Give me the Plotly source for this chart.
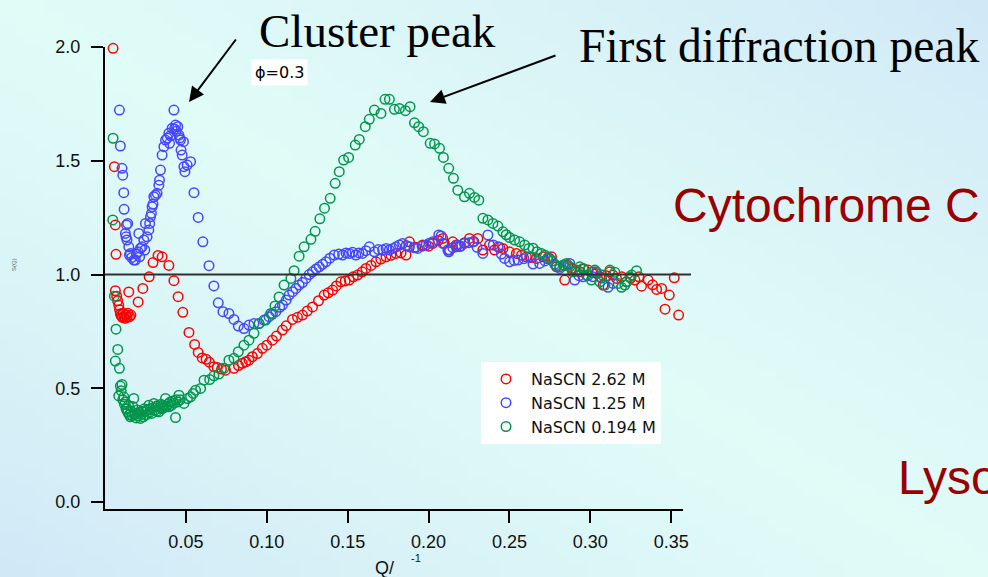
import base64
import struct
import zlib
import plotly.graph_objects as go

# ---------------- data ----------------
red_label = "NaSCN 2.62 M"
red_q = [0.0050, 0.0058, 0.0064, 0.0068, 0.0064, 0.0072, 0.0078, 0.0085, 0.0090, 0.0095,
         0.0100, 0.0106, 0.0112, 0.0118, 0.0124, 0.0130, 0.0136, 0.0142, 0.0147, 0.0152,
         0.0160, 0.0205, 0.0234, 0.0273, 0.0297, 0.0328, 0.0353, 0.0395, 0.0426, 0.0452,
         0.0481, 0.0519, 0.0554, 0.0576, 0.0601, 0.0625, 0.0645, 0.0673, 0.0694, 0.0720,
         0.0745, 0.0797, 0.0825, 0.0849, 0.0870, 0.0890, 0.0911, 0.0942, 0.0973, 0.1000,
         0.1035, 0.1060, 0.1097, 0.1120, 0.1159, 0.1190, 0.1221, 0.1250, 0.1283, 0.1320,
         0.1355, 0.1380, 0.1407, 0.1430, 0.1458, 0.1485, 0.1510, 0.1535, 0.1561, 0.1590,
         0.1613, 0.1645, 0.1675, 0.1705, 0.1737, 0.1768, 0.1799, 0.1830, 0.1861, 0.1882,
         0.1920, 0.1964, 0.2000, 0.2026, 0.2060, 0.2088, 0.2098, 0.2130, 0.2150, 0.2171,
         0.2191, 0.2222, 0.2253, 0.2280, 0.2305, 0.2336, 0.2377, 0.2408, 0.2440, 0.2460,
         0.2500, 0.2543, 0.2575, 0.2605, 0.2635, 0.2667, 0.2708, 0.2735, 0.2760, 0.2791,
         0.2842, 0.2860, 0.2884, 0.2910, 0.2935, 0.2960, 0.2986, 0.3010, 0.3038, 0.3060,
         0.3079, 0.3100, 0.3121, 0.3140, 0.3162, 0.3195, 0.3224, 0.3250, 0.3276, 0.3300,
         0.3317, 0.3358, 0.3385, 0.3410, 0.3441, 0.3462, 0.3488, 0.3519, 0.3546, 0.3575]
red_s = [1.994, 1.474, 1.218, 1.089, 0.929, 0.905, 0.885, 0.865, 0.845, 0.828,
         0.820, 0.812, 0.830, 0.815, 0.808, 0.822, 0.812, 0.830, 0.924, 0.815,
         0.822, 0.880, 0.939, 0.990, 1.053, 1.084, 1.078, 1.040, 0.973, 0.903,
         0.834, 0.746, 0.693, 0.658, 0.634, 0.628, 0.615, 0.595, 0.592, 0.585,
         0.580, 0.588, 0.600, 0.610, 0.617, 0.624, 0.639, 0.653, 0.676, 0.690,
         0.712, 0.730, 0.756, 0.775, 0.803, 0.812, 0.822, 0.840, 0.858, 0.885,
         0.910, 0.920, 0.932, 0.950, 0.968, 0.972, 0.976, 0.990, 0.998, 1.012,
         1.027, 1.040, 1.056, 1.068, 1.078, 1.085, 1.093, 1.095, 1.086, 1.144,
         1.120, 1.130, 1.125, 1.137, 1.150, 1.159, 1.137, 1.108, 1.144, 1.130,
         1.123, 1.140, 1.159, 1.145, 1.159, 1.108, 1.130, 1.108, 1.120, 1.115,
         1.100, 1.093, 1.085, 1.078, 1.075, 1.071, 1.078, 1.070, 1.078, 1.034,
         0.976, 1.040, 1.027, 1.015, 1.012, 1.025, 1.020, 1.010, 1.005, 0.990,
         0.954, 0.995, 1.012, 0.998, 0.983, 0.990, 0.968, 0.985, 0.976, 0.990,
         0.949, 0.976, 0.955, 0.935, 0.939, 0.848, 0.910, 0.986, 0.822, 0.939]

blue_label = "NaSCN 1.25 M"
blue_q = [0.0089, 0.0095, 0.0105, 0.0110, 0.0116, 0.0118, 0.0126, 0.0130, 0.0133, 0.0136,
          0.0140, 0.0147, 0.0151, 0.0157, 0.0165, 0.0178, 0.0188, 0.0195, 0.0205, 0.0209,
          0.0214, 0.0219, 0.0229, 0.0240, 0.0246, 0.0250, 0.0260, 0.0271, 0.0276, 0.0281,
          0.0287, 0.0291, 0.0297, 0.0302, 0.0312, 0.0322, 0.0333, 0.0337, 0.0343, 0.0353,
          0.0364, 0.0374, 0.0385, 0.0395, 0.0399, 0.0405, 0.0415, 0.0426, 0.0430, 0.0436,
          0.0440, 0.0450, 0.0457, 0.0462, 0.0467, 0.0470, 0.0477, 0.0485, 0.0488, 0.0494,
          0.0508, 0.0529, 0.0550, 0.0576, 0.0605, 0.0643, 0.0673, 0.0700, 0.0729, 0.0766,
          0.0797, 0.0824, 0.0859, 0.0890, 0.0921, 0.0952, 0.0983, 0.1014, 0.1035, 0.1056,
          0.1080, 0.1097, 0.1120, 0.1138, 0.1160, 0.1180, 0.1200, 0.1221, 0.1242, 0.1262,
          0.1283, 0.1305, 0.1324, 0.1345, 0.1366, 0.1390, 0.1417, 0.1445, 0.1469, 0.1490,
          0.1510, 0.1530, 0.1551, 0.1570, 0.1592, 0.1613, 0.1634, 0.1665, 0.1690, 0.1716,
          0.1738, 0.1758, 0.1780, 0.1799, 0.1820, 0.1840, 0.1862, 0.1882, 0.1910, 0.1933,
          0.1960, 0.1985, 0.2005, 0.2026, 0.2063, 0.2078, 0.2088, 0.2119, 0.2125, 0.2150,
          0.2171, 0.2181, 0.2200, 0.2222, 0.2250, 0.2274, 0.2300, 0.2336, 0.2367, 0.2400,
          0.2429, 0.2450, 0.2470, 0.2501, 0.2530, 0.2553, 0.2590, 0.2625, 0.2646, 0.2687,
          0.2720, 0.2749, 0.2780, 0.2811, 0.2840, 0.2873, 0.2904, 0.2930, 0.2955, 0.2985,
          0.3017, 0.3038, 0.3070, 0.3110, 0.3141]
blue_s = [1.723, 1.565, 1.467, 1.437, 1.360, 1.287, 1.181, 1.166, 1.218, 1.152,
          1.225, 1.122, 1.086, 1.093, 1.075, 1.064, 1.064, 1.090, 1.100, 1.181,
          1.078, 1.115, 1.122, 1.152, 1.108, 1.225, 1.166, 1.196, 1.225, 1.254,
          1.269, 1.298, 1.310, 1.342, 1.349, 1.357, 1.393, 1.415, 1.459, 1.525,
          1.562, 1.591, 1.600, 1.621, 1.577, 1.610, 1.643, 1.723, 1.640, 1.657,
          1.630, 1.650, 1.613, 1.600, 1.591, 1.547, 1.525, 1.584, 1.474, 1.452,
          1.481, 1.496, 1.360, 1.251, 1.144, 1.039, 0.950, 0.876, 0.837, 0.829,
          0.803, 0.774, 0.763, 0.778, 0.785, 0.785, 0.800, 0.815, 0.826, 0.837,
          0.856, 0.866, 0.888, 0.910, 0.925, 0.939, 0.954, 0.965, 0.983, 1.000,
          1.012, 1.025, 1.034, 1.045, 1.056, 1.072, 1.086, 1.090, 1.086, 1.095,
          1.093, 1.098, 1.086, 1.095, 1.093, 1.105, 1.122, 1.100, 1.110, 1.108,
          1.115, 1.108, 1.115, 1.122, 1.130, 1.137, 1.128, 1.122, 1.118, 1.115,
          1.125, 1.130, 1.138, 1.144, 1.174, 1.170, 1.137, 1.108, 1.100, 1.118,
          1.122, 1.130, 1.125, 1.137, 1.140, 1.144, 1.120, 1.093, 1.174, 1.130,
          1.122, 1.090, 1.071, 1.056, 1.062, 1.064, 1.070, 1.078, 1.046, 1.049,
          1.060, 1.071, 1.045, 1.027, 1.040, 1.049, 0.976, 0.995, 0.990, 0.995,
          0.990, 1.012, 0.985, 0.944, 0.961]

green_label = "NaSCN 0.194 M"
green_q = [0.0048, 0.0050, 0.0058, 0.0064, 0.0068, 0.0079, 0.0085, 0.0089, 0.0095, 0.0100,
           0.0105, 0.0110, 0.0116, 0.0120, 0.0125, 0.0130, 0.0136, 0.0140, 0.0145, 0.0150,
           0.0157, 0.0162, 0.0168, 0.0172, 0.0178, 0.0183, 0.0188, 0.0193, 0.0200, 0.0205,
           0.0210, 0.0219, 0.0225, 0.0230, 0.0237, 0.0243, 0.0250, 0.0256, 0.0262, 0.0271,
           0.0276, 0.0282, 0.0288, 0.0295, 0.0302, 0.0308, 0.0315, 0.0320, 0.0326, 0.0333,
           0.0340, 0.0346, 0.0352, 0.0358, 0.0365, 0.0374, 0.0380, 0.0387, 0.0395, 0.0402,
           0.0410, 0.0418, 0.0425, 0.0436, 0.0440, 0.0448, 0.0457, 0.0465, 0.0488, 0.0510,
           0.0529, 0.0545, 0.0560, 0.0591, 0.0612, 0.0647, 0.0673, 0.0704, 0.0735, 0.0766,
           0.0797, 0.0824, 0.0859, 0.0890, 0.0921, 0.0952, 0.0994, 0.1025, 0.1051, 0.1076,
           0.1107, 0.1149, 0.1169, 0.1200, 0.1231, 0.1273, 0.1299, 0.1328, 0.1357, 0.1392,
           0.1423, 0.1448, 0.1475, 0.1506, 0.1547, 0.1572, 0.1609, 0.1634, 0.1665, 0.1706,
           0.1731, 0.1758, 0.1789, 0.1820, 0.1857, 0.1886, 0.1913, 0.1939, 0.1968, 0.2010,
           0.2037, 0.2068, 0.2092, 0.2125, 0.2154, 0.2181, 0.2222, 0.2253, 0.2284, 0.2311,
           0.2336, 0.2367, 0.2398, 0.2429, 0.2460, 0.2480, 0.2501, 0.2532, 0.2563, 0.2594,
           0.2620, 0.2646, 0.2670, 0.2698, 0.2720, 0.2739, 0.2765, 0.2791, 0.2811, 0.2832,
           0.2852, 0.2873, 0.2890, 0.2914, 0.2935, 0.2955, 0.2976, 0.3007, 0.3017, 0.3028,
           0.3059, 0.3075, 0.3090, 0.3121, 0.3152, 0.3172, 0.3193, 0.3214, 0.3224, 0.3245,
           0.3255, 0.3286]
green_s = [1.240, 1.599, 0.905, 0.620, 0.760, 0.671, 0.467, 0.588, 0.510, 0.490,
           0.517, 0.450, 0.463, 0.430, 0.440, 0.410, 0.412, 0.395, 0.425, 0.385,
           0.375, 0.400, 0.380, 0.420, 0.456, 0.385, 0.390, 0.370, 0.405, 0.380,
           0.395, 0.368, 0.385, 0.400, 0.375, 0.410, 0.397, 0.385, 0.405, 0.426,
           0.395, 0.410, 0.390, 0.415, 0.434, 0.405, 0.420, 0.400, 0.425, 0.397,
           0.415, 0.430, 0.410, 0.425, 0.415, 0.456, 0.420, 0.430, 0.419, 0.440,
           0.425, 0.445, 0.435, 0.372, 0.450, 0.440, 0.470, 0.450, 0.434, 0.455,
           0.463, 0.478, 0.492, 0.500, 0.536, 0.539, 0.555, 0.563, 0.588, 0.624,
           0.632, 0.661, 0.690, 0.712, 0.742, 0.785, 0.800, 0.829, 0.862, 0.902,
           0.954, 0.983, 1.017, 1.081, 1.122, 1.155, 1.190, 1.245, 1.292, 1.335,
           1.401, 1.452, 1.503, 1.515, 1.569, 1.594, 1.650, 1.682, 1.723, 1.708,
           1.770, 1.770, 1.726, 1.730, 1.720, 1.738, 1.667, 1.650, 1.628, 1.577,
           1.574, 1.555, 1.515, 1.467, 1.423, 1.371, 1.342, 1.357, 1.339, 1.327,
           1.247, 1.240, 1.225, 1.213, 1.188, 1.175, 1.163, 1.152, 1.144, 1.130,
           1.115, 1.116, 1.100, 1.093, 1.085, 1.075, 1.060, 1.040, 1.034, 1.042,
           1.049, 1.034, 1.012, 1.020, 1.034, 1.027, 0.998, 0.976, 1.012, 1.020,
           0.968, 0.998, 0.954, 1.020, 1.010, 0.961, 0.944, 0.954, 0.968, 0.990,
           0.998, 1.017]

x_ticks = [0.05, 0.10, 0.15, 0.20, 0.25, 0.30, 0.35]
x_tick_text = ["0.05", "0.10", "0.15", "0.20", "0.25", "0.30", "0.35"]
y_ticks = [0.0, 0.5, 1.0, 1.5, 2.0]
y_tick_text = ["0.0", "0.5", "1.0", "1.5", "2.0"]
reference_level = 1.0

# ---------------- background gradient (generated PNG) ----------------
W, H = 988, 577


def _chunk(tag, data):
    return (struct.pack(">I", len(data)) + tag + data
            + struct.pack(">I", zlib.crc32(tag + data) & 0xFFFFFFFF))


def gradient_png(w=100, h=60):
    c_cyan = (224, 252, 247)
    c_blue = (209, 233, 247)
    rows = []
    for j in range(h):
        v = j / (h - 1)
        row = bytearray([0])
        for i in range(w):
            u = i / (w - 1)
            t = min(1.0, abs(u - v)) ** 1.2
            row += bytes(int(round(c_cyan[k] + (c_blue[k] - c_cyan[k]) * t)) for k in range(3))
        rows.append(bytes(row))
    raw = b"".join(rows)
    png = (b"\x89PNG\r\n\x1a\n"
           + _chunk(b"IHDR", struct.pack(">IIBBBBB", w, h, 8, 2, 0, 0, 0))
           + _chunk(b"IDAT", zlib.compress(raw, 9))
           + _chunk(b"IEND", b""))
    return "data:image/png;base64," + base64.b64encode(png).decode()


def px(x):
    return x / W


def py(y):
    return 1 - y / H


SANS = "Liberation Sans, Arial, sans-serif"
WIDE = "DejaVu Sans, Verdana, sans-serif"
SERIF = "Liberation Serif, Times New Roman, serif"

fig = go.Figure()
for q, s, name, col in [(red_q, red_s, red_label, "#ff0000"),
                        (blue_q, blue_s, blue_label, "#4646ff"),
                        (green_q, green_s, green_label, "#00964b")]:
    fig.add_trace(go.Scatter(x=q, y=s, mode="markers", name=name, cliponaxis=False,
                             marker=dict(symbol="circle-open", size=9.5, color=col,
                                         line=dict(color=col, width=1.5))))

fig.add_shape(type="line", xref="paper", yref="y", x0=px(105), x1=px(691),
              y0=reference_level, y1=reference_level,
              line=dict(color="#303030", width=2))

axis_common = dict(showline=True, linecolor="black", linewidth=2, ticks="outside",
                   ticklen=12, tickwidth=2, tickcolor="black", showgrid=False,
                   zeroline=False, automargin=False,
                   tickfont=dict(family=SANS, size=18, color="#111"))
fig.update_xaxes(range=[0, 0.357], domain=[px(105), px(682.5)], tickvals=x_ticks,
                 ticktext=x_tick_text, ticklabelstandoff=3, **axis_common)
fig.update_yaxes(range=[-0.03, 2.0], domain=[py(509), py(47)], tickvals=y_ticks,
                 ticktext=y_tick_text, ticklabelstandoff=7, **axis_common)

annotations = [
    dict(text="Cluster peak", x=px(257), y=py(31), xanchor="left", yanchor="middle",
         font=dict(family=SERIF, size=47, color="black")),
    dict(text="First diffraction peak", x=px(577), y=py(46), xanchor="left", yanchor="middle",
         font=dict(family=SERIF, size=47.5, color="black")),
    dict(text="ϕ=0.3", x=px(279), y=py(72), xanchor="center", yanchor="middle",
         bgcolor="white", borderpad=3, font=dict(family=WIDE, size=16, color="black")),
    dict(text="Cytochrome C", x=px(671), y=py(205), xanchor="left", yanchor="middle",
         font=dict(family=SANS, size=48, color="#9b0000")),
    dict(text="Lysozyme", x=px(896), y=py(477), xanchor="left", yanchor="middle",
         font=dict(family=SANS, size=48, color="#9b0000")),
    dict(text="Q/", x=px(384), y=py(568), xanchor="center", yanchor="middle",
         font=dict(family=SANS, size=18, color="#111")),
    dict(text="-1", x=px(416), y=py(558), xanchor="center", yanchor="middle",
         font=dict(family=SANS, size=11, color="#111")),
    dict(text="S(Q)", x=px(14), y=py(265), xanchor="center", yanchor="middle",
         textangle=-90, font=dict(family=SANS, size=6, color="#666")),
    # arrows
    dict(text="", x=px(189), y=py(102), ax=48, ay=-64, showarrow=True,
         arrowhead=2, arrowsize=1.5, arrowwidth=2, arrowcolor="black", standoff=0),
    dict(text="", x=px(430), y=py(102), ax=127, ay=-47, showarrow=True,
         arrowhead=2, arrowsize=1.5, arrowwidth=2, arrowcolor="black", standoff=0),
]
for a in annotations:
    a.setdefault("showarrow", False)
    a["xref"] = "paper"
    a["yref"] = "paper"

fig.update_layout(
    template="none",
    width=W, height=H,
    margin=dict(l=0, r=0, t=0, b=0, pad=0, autoexpand=False),
    paper_bgcolor="#dcf6f6",
    plot_bgcolor="rgba(0,0,0,0)",
    annotations=annotations,
    images=[dict(source=gradient_png(), xref="paper", yref="paper", x=0, y=1,
                 sizex=1, sizey=1, xanchor="left", yanchor="top", sizing="stretch",
                 layer="below")],
    legend=dict(x=px(481), y=py(362), xanchor="left", yanchor="top", bgcolor="white",
                borderwidth=0, font=dict(family=WIDE, size=16, color="#111"),
                itemwidth=40, tracegroupgap=0),
    showlegend=True,
)

fig.write_html("out.html")
